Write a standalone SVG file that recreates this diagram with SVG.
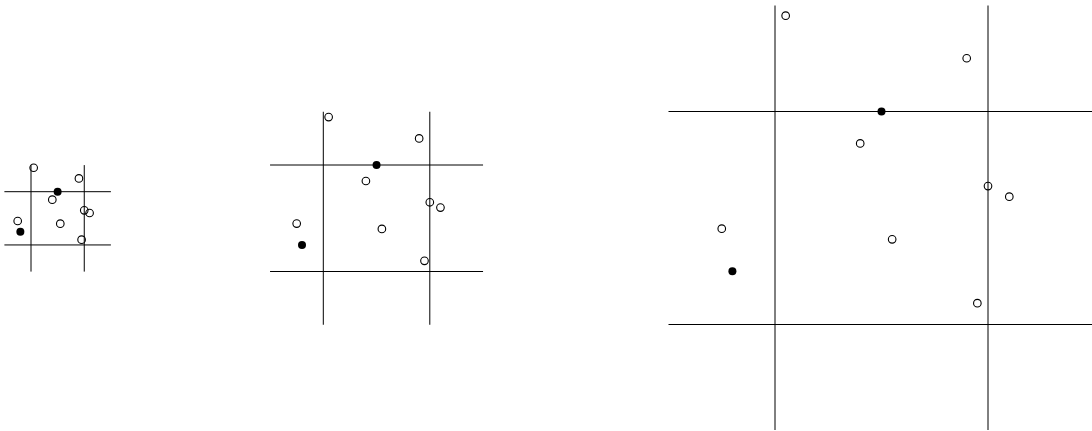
<svg xmlns="http://www.w3.org/2000/svg" width="1092" height="431" viewBox="0 0 1092 431">
<style>
.grid line{stroke:#000;stroke-width:1;fill:none}
.o{fill:none;stroke:#000;stroke-width:1.1}
.f{fill:#000;stroke:none}
</style>
<rect width="1092" height="431" fill="#fff"/>
<g id="panel1">
<g class="grid" id="grid1">
<line x1="4.4" y1="191.7" x2="110.9" y2="191.7"/>
<line x1="4.4" y1="244.95" x2="110.9" y2="244.95"/>
<line x1="31" y1="165.1" x2="31" y2="271.6"/>
<line x1="84.25" y1="165.1" x2="84.25" y2="271.6"/>
</g>
<g id="points1">
<circle class="o" cx="33.66" cy="167.74" r="3.8"/>
<circle class="o" cx="78.93" cy="178.39" r="3.8"/>
<circle class="f" cx="57.63" cy="191.7" r="4"/>
<circle class="o" cx="52.3" cy="199.69" r="3.8"/>
<circle class="o" cx="84.25" cy="210.34" r="3.8"/>
<circle class="o" cx="89.58" cy="213" r="3.8"/>
<circle class="o" cx="17.69" cy="220.99" r="3.8"/>
<circle class="f" cx="20.35" cy="231.64" r="4"/>
<circle class="o" cx="60.29" cy="223.65" r="3.8"/>
<circle class="o" cx="81.59" cy="239.63" r="3.8"/>
</g>
</g>
<g id="panel2">
<g class="grid" id="grid2">
<line x1="270.05" y1="165" x2="483.05" y2="165"/>
<line x1="270.05" y1="271.5" x2="483.05" y2="271.5"/>
<line x1="323.3" y1="111.75" x2="323.3" y2="324.75"/>
<line x1="429.8" y1="111.75" x2="429.8" y2="324.75"/>
</g>
<g id="points2">
<circle class="o" cx="328.63" cy="117.08" r="3.8"/>
<circle class="o" cx="419.15" cy="138.38" r="3.8"/>
<circle class="f" cx="376.55" cy="165" r="4"/>
<circle class="o" cx="365.9" cy="180.98" r="3.8"/>
<circle class="o" cx="429.8" cy="202.28" r="3.8"/>
<circle class="o" cx="440.45" cy="207.6" r="3.8"/>
<circle class="o" cx="296.68" cy="223.58" r="3.8"/>
<circle class="f" cx="302" cy="244.88" r="4"/>
<circle class="o" cx="381.88" cy="228.9" r="3.8"/>
<circle class="o" cx="424.48" cy="260.85" r="3.8"/>
</g>
</g>
<g id="panel3">
<g class="grid" id="grid3">
<line x1="668.5" y1="111.5" x2="1092" y2="111.5"/>
<line x1="668.5" y1="324.5" x2="1092" y2="324.5"/>
<line x1="775" y1="5.5" x2="775" y2="430"/>
<line x1="988" y1="5.5" x2="988" y2="430"/>
</g>
<g id="points3">
<circle class="o" cx="785.65" cy="15.65" r="3.8"/>
<circle class="o" cx="966.7" cy="58.25" r="3.8"/>
<circle class="f" cx="881.5" cy="111.5" r="4"/>
<circle class="o" cx="860.2" cy="143.45" r="3.8"/>
<circle class="o" cx="988" cy="186.05" r="3.8"/>
<circle class="o" cx="1009.3" cy="196.7" r="3.8"/>
<circle class="o" cx="721.75" cy="228.65" r="3.8"/>
<circle class="f" cx="732.4" cy="271.25" r="4"/>
<circle class="o" cx="892.15" cy="239.3" r="3.8"/>
<circle class="o" cx="977.35" cy="303.2" r="3.8"/>
</g>
</g>
</svg>
